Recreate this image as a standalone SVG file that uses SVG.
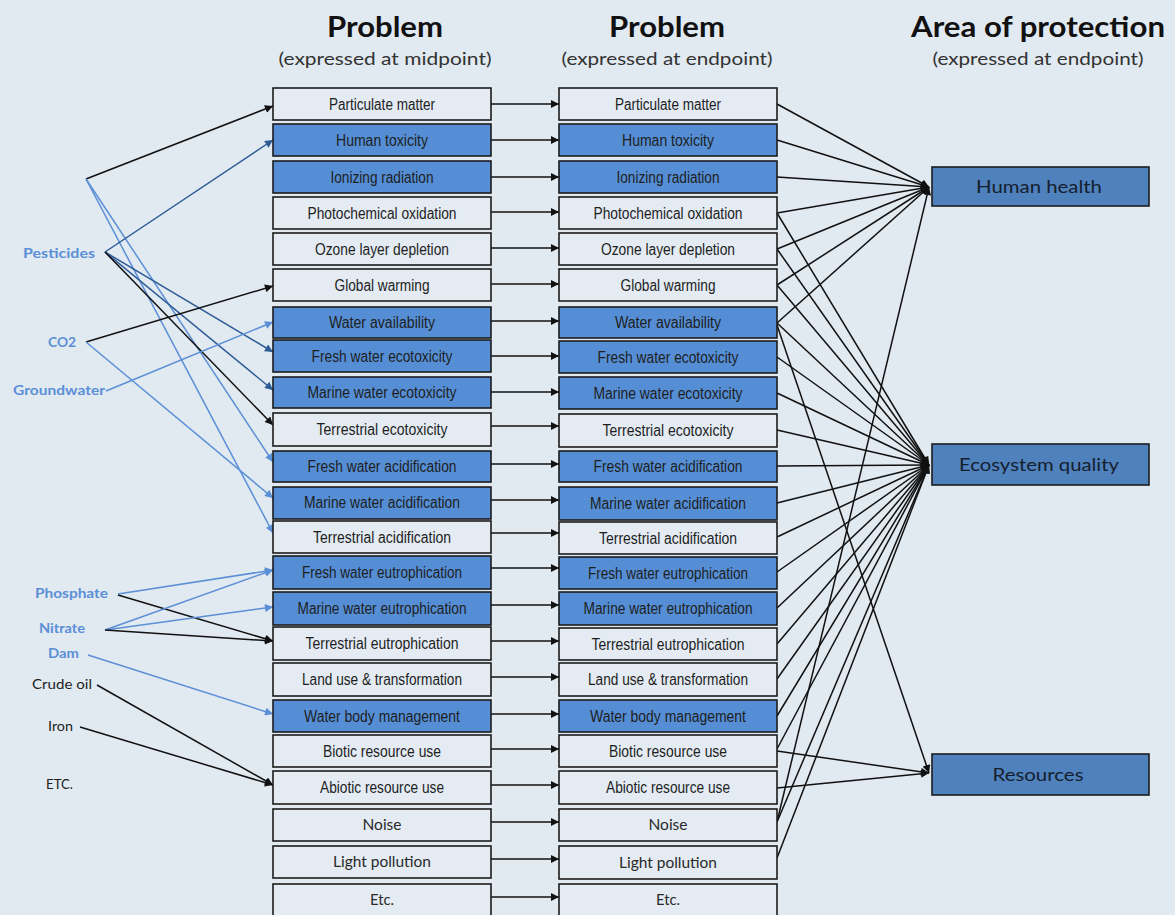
<svg xmlns="http://www.w3.org/2000/svg" width="1175" height="915" viewBox="0 0 1175 915">
  <style>
    .bg { fill: #e1e9f1; }
    .box { stroke: #1c1c1c; stroke-width: 1.6; }
    .w { fill: #e4ebf3; }
    .b { fill: #558ed5; }
    .area { fill: #4f81bd; stroke: #1c1c1c; stroke-width: 1.6; }
    .lbl { font-family: "Liberation Sans", Arial, sans-serif; font-size: 16px; fill: #1e1e1e; text-anchor: middle; }
    .lbl2 { font-family: Lato, "Open Sans", sans-serif; font-size: 15px; fill: #2a2a2a; text-anchor: middle; }
    .head { font-family: Lato, "Open Sans", sans-serif; font-weight: bold; font-size: 28px; fill: #111; text-anchor: middle; }
    .sub { font-family: Lato, "Open Sans", sans-serif; font-size: 16.5px; fill: #333; text-anchor: middle; }
    .aop { font-family: Lato, "Open Sans", sans-serif; font-size: 18px; fill: #15202e; text-anchor: middle; }
    .src { font-family: Lato, "Open Sans", sans-serif; font-weight: bold; font-size: 13.5px; fill: #5b8fd6; }
    .srck { font-family: Lato, "Open Sans", sans-serif; font-size: 13.5px; fill: #222; }
    .k { stroke: #111; stroke-width: 1.5; fill: none; marker-end: url(#ak); }
    .d { stroke: #2d5c96; stroke-width: 1.5; fill: none; marker-end: url(#ad); }
    .l { stroke: #5b8fd6; stroke-width: 1.5; fill: none; marker-end: url(#al); }
  </style>
  <defs>
    <marker id="ak" viewBox="0 0 10 10" refX="10" refY="5" markerWidth="10" markerHeight="8" markerUnits="userSpaceOnUse" orient="auto"><path d="M0,0 L10,5 L0,10 z" fill="#111"/></marker>
    <marker id="ad" viewBox="0 0 10 10" refX="10" refY="5" markerWidth="10" markerHeight="8" markerUnits="userSpaceOnUse" orient="auto"><path d="M0,0 L10,5 L0,10 z" fill="#2d5c96"/></marker>
    <marker id="al" viewBox="0 0 10 10" refX="10" refY="5" markerWidth="10" markerHeight="8" markerUnits="userSpaceOnUse" orient="auto"><path d="M0,0 L10,5 L0,10 z" fill="#5b8fd6"/></marker>
  </defs>

  <rect class="bg" x="0" y="0" width="1175" height="915"/>

  <!-- column headings -->
  <g id="headings">
    <text class="head" x="385" y="37" textLength="116" lengthAdjust="spacingAndGlyphs">Problem</text>
    <text class="sub" x="385" y="65" textLength="213" lengthAdjust="spacingAndGlyphs">(expressed at midpoint)</text>
    <text class="head" x="667" y="37" textLength="116" lengthAdjust="spacingAndGlyphs">Problem</text>
    <text class="sub" x="667" y="65" textLength="211" lengthAdjust="spacingAndGlyphs">(expressed at endpoint)</text>
    <text class="head" x="1038" y="37" textLength="254" lengthAdjust="spacingAndGlyphs">Area of protection</text>
    <text class="sub" x="1038" y="65" textLength="211" lengthAdjust="spacingAndGlyphs">(expressed at endpoint)</text>
  </g>

  <!-- connectors -->
  <g id="connectors">
    <!-- sources to midpoint problems -->
    <line class="k" x1="86" y1="179" x2="273" y2="106"/>
    <line class="l" x1="86" y1="179" x2="273" y2="462"/>
    <line class="l" x1="86" y1="179" x2="273" y2="533"/>
    <line class="d" x1="105" y1="252" x2="273" y2="140"/>
    <line class="d" x1="105" y1="252" x2="273" y2="352"/>
    <line class="d" x1="105" y1="252" x2="273" y2="390"/>
    <line class="k" x1="105" y1="252" x2="273" y2="425"/>
    <line class="k" x1="86" y1="342" x2="273" y2="286"/>
    <line class="l" x1="86" y1="342" x2="273" y2="498"/>
    <line class="l" x1="106" y1="391" x2="273" y2="322"/>
    <line class="l" x1="118" y1="594" x2="273" y2="570"/>
    <line class="k" x1="118" y1="595" x2="273" y2="641"/>
    <line class="l" x1="105" y1="630" x2="273" y2="570"/>
    <line class="l" x1="105" y1="630" x2="273" y2="607"/>
    <line class="k" x1="105" y1="630" x2="273" y2="641"/>
    <line class="l" x1="88" y1="655" x2="273" y2="714"/>
    <line class="k" x1="97" y1="685" x2="273" y2="785"/>
    <line class="k" x1="80" y1="727" x2="273" y2="785"/>

    <!-- midpoint to endpoint -->
    <line class="k" x1="491" y1="104" x2="559" y2="104"/>
    <line class="k" x1="491" y1="140" x2="559" y2="140"/>
    <line class="k" x1="491" y1="177" x2="559" y2="177"/>
    <line class="k" x1="491" y1="212" x2="559" y2="212"/>
    <line class="k" x1="491" y1="248" x2="559" y2="248"/>
    <line class="k" x1="491" y1="284" x2="559" y2="284"/>
    <line class="k" x1="491" y1="321" x2="559" y2="321"/>
    <line class="k" x1="491" y1="356" x2="559" y2="356"/>
    <line class="k" x1="491" y1="392" x2="559" y2="392"/>
    <line class="k" x1="491" y1="426" x2="559" y2="426"/>
    <line class="k" x1="491" y1="464" x2="559" y2="464"/>
    <line class="k" x1="491" y1="500" x2="559" y2="500"/>
    <line class="k" x1="491" y1="533" x2="559" y2="533"/>
    <line class="k" x1="491" y1="568" x2="559" y2="568"/>
    <line class="k" x1="491" y1="605" x2="559" y2="605"/>
    <line class="k" x1="491" y1="641" x2="559" y2="641"/>
    <line class="k" x1="491" y1="677" x2="559" y2="677"/>
    <line class="k" x1="491" y1="714" x2="559" y2="714"/>
    <line class="k" x1="491" y1="749" x2="559" y2="749"/>
    <line class="k" x1="491" y1="785" x2="559" y2="785"/>
    <line class="k" x1="491" y1="822" x2="559" y2="822"/>
    <line class="k" x1="491" y1="859" x2="559" y2="859"/>
    <line class="k" x1="491" y1="897" x2="559" y2="897"/>

    <!-- endpoint problems to Human health -->
    <line class="k" x1="777" y1="104" x2="929" y2="187"/>
    <line class="k" x1="777" y1="140" x2="929" y2="187"/>
    <line class="k" x1="777" y1="177" x2="929" y2="187"/>
    <line class="k" x1="777" y1="213" x2="929" y2="187"/>
    <line class="k" x1="777" y1="249" x2="929" y2="187"/>
    <line class="k" x1="777" y1="285" x2="929" y2="187"/>
    <line class="k" x1="777" y1="323" x2="929" y2="187"/>
    <line class="k" x1="777" y1="822" x2="929" y2="187"/>

    <!-- endpoint problems to Ecosystem quality -->
    <line class="k" x1="777" y1="213" x2="929" y2="465"/>
    <line class="k" x1="777" y1="249" x2="929" y2="465"/>
    <line class="k" x1="777" y1="285" x2="929" y2="465"/>
    <line class="k" x1="777" y1="323" x2="929" y2="465"/>
    <line class="k" x1="777" y1="357" x2="929" y2="465"/>
    <line class="k" x1="777" y1="393" x2="929" y2="465"/>
    <line class="k" x1="777" y1="430" x2="929" y2="465"/>
    <line class="k" x1="777" y1="466" x2="929" y2="465"/>
    <line class="k" x1="777" y1="503" x2="929" y2="465"/>
    <line class="k" x1="777" y1="537" x2="929" y2="465"/>
    <line class="k" x1="777" y1="572" x2="929" y2="465"/>
    <line class="k" x1="777" y1="608" x2="929" y2="465"/>
    <line class="k" x1="777" y1="644" x2="929" y2="465"/>
    <line class="k" x1="777" y1="679" x2="929" y2="465"/>
    <line class="k" x1="777" y1="716" x2="929" y2="465"/>
    <line class="k" x1="777" y1="749" x2="929" y2="465"/>
    <line class="k" x1="777" y1="822" x2="929" y2="465"/>
    <line class="k" x1="777" y1="858" x2="929" y2="465"/>

    <!-- endpoint problems to Resources -->
    <line class="k" x1="777" y1="325" x2="929" y2="773"/>
    <line class="k" x1="777" y1="751" x2="929" y2="773"/>
    <line class="k" x1="777" y1="788" x2="929" y2="773"/>
  </g>

  <!-- sources -->
  <g id="src-pesticides"><text class="src" x="23" y="258" textLength="72" lengthAdjust="spacingAndGlyphs">Pesticides</text></g>
  <g id="src-co2"><text class="src" x="48" y="347" textLength="28" lengthAdjust="spacingAndGlyphs">CO2</text></g>
  <g id="src-groundwater"><text class="src" x="13" y="395" textLength="92" lengthAdjust="spacingAndGlyphs">Groundwater</text></g>
  <g id="src-phosphate"><text class="src" x="35" y="598" textLength="73" lengthAdjust="spacingAndGlyphs">Phosphate</text></g>
  <g id="src-nitrate"><text class="src" x="39" y="633" textLength="46" lengthAdjust="spacingAndGlyphs">Nitrate</text></g>
  <g id="src-dam"><text class="src" x="48" y="658" textLength="31" lengthAdjust="spacingAndGlyphs">Dam</text></g>
  <g id="src-crude-oil"><text class="srck" x="32" y="689" textLength="60" lengthAdjust="spacingAndGlyphs">Crude oil</text></g>
  <g id="src-iron"><text class="srck" x="48" y="731" textLength="25" lengthAdjust="spacingAndGlyphs">Iron</text></g>
  <g id="src-etc"><text class="srck" x="46" y="789" textLength="27" lengthAdjust="spacingAndGlyphs">ETC.</text></g>

  <!-- midpoint problems -->
  <g id="mid-particulate"><rect class="box w" x="273" y="88" width="218" height="32"/><text class="lbl" x="382" y="109.5" textLength="106" lengthAdjust="spacingAndGlyphs">Particulate matter</text></g>
  <g id="mid-human-tox"><rect class="box b" x="273" y="124" width="218" height="32"/><text class="lbl" x="382" y="145.5" textLength="92" lengthAdjust="spacingAndGlyphs">Human toxicity</text></g>
  <g id="mid-ionizing"><rect class="box b" x="273" y="161" width="218" height="32"/><text class="lbl" x="382" y="182.5" textLength="103" lengthAdjust="spacingAndGlyphs">Ionizing radiation</text></g>
  <g id="mid-photochem"><rect class="box w" x="273" y="197" width="218" height="32"/><text class="lbl" x="382" y="218.5" textLength="149" lengthAdjust="spacingAndGlyphs">Photochemical oxidation</text></g>
  <g id="mid-ozone"><rect class="box w" x="273" y="233" width="218" height="32"/><text class="lbl" x="382" y="254.5" textLength="134" lengthAdjust="spacingAndGlyphs">Ozone layer depletion</text></g>
  <g id="mid-global-warming"><rect class="box w" x="273" y="269" width="218" height="32"/><text class="lbl" x="382" y="290.5" textLength="95" lengthAdjust="spacingAndGlyphs">Global warming</text></g>
  <g id="mid-water-avail"><rect class="box b" x="273" y="307" width="218" height="31"/><text class="lbl" x="382" y="327.5" textLength="106" lengthAdjust="spacingAndGlyphs">Water availability</text></g>
  <g id="mid-fw-ecotox"><rect class="box b" x="273" y="340" width="218" height="32"/><text class="lbl" x="382" y="361.5" textLength="141" lengthAdjust="spacingAndGlyphs">Fresh water ecotoxicity</text></g>
  <g id="mid-mw-ecotox"><rect class="box b" x="273" y="377" width="218" height="31"/><text class="lbl" x="382" y="397.5" textLength="149" lengthAdjust="spacingAndGlyphs">Marine water ecotoxicity</text></g>
  <g id="mid-terr-ecotox"><rect class="box w" x="273" y="413" width="218" height="33"/><text class="lbl" x="382" y="435" textLength="131" lengthAdjust="spacingAndGlyphs">Terrestrial ecotoxicity</text></g>
  <g id="mid-fw-acid"><rect class="box b" x="273" y="451" width="218" height="31"/><text class="lbl" x="382" y="471.5" textLength="149" lengthAdjust="spacingAndGlyphs">Fresh water acidification</text></g>
  <g id="mid-mw-acid"><rect class="box b" x="273" y="487" width="218" height="32"/><text class="lbl" x="382" y="508" textLength="156" lengthAdjust="spacingAndGlyphs">Marine water acidification</text></g>
  <g id="mid-terr-acid"><rect class="box w" x="273" y="521" width="218" height="32"/><text class="lbl" x="382" y="542.5" textLength="138" lengthAdjust="spacingAndGlyphs">Terrestrial acidification</text></g>
  <g id="mid-fw-eutro"><rect class="box b" x="273" y="556" width="218" height="33"/><text class="lbl" x="382" y="578" textLength="160" lengthAdjust="spacingAndGlyphs">Fresh water eutrophication</text></g>
  <g id="mid-mw-eutro"><rect class="box b" x="273" y="592" width="218" height="33"/><text class="lbl" x="382" y="614" textLength="169" lengthAdjust="spacingAndGlyphs">Marine water eutrophication</text></g>
  <g id="mid-terr-eutro"><rect class="box w" x="273" y="627" width="218" height="33"/><text class="lbl" x="382" y="649" textLength="153" lengthAdjust="spacingAndGlyphs">Terrestrial eutrophication</text></g>
  <g id="mid-land-use"><rect class="box w" x="273" y="663" width="218" height="33"/><text class="lbl" x="382" y="685" textLength="160" lengthAdjust="spacingAndGlyphs">Land use &amp; transformation</text></g>
  <g id="mid-water-body"><rect class="box b" x="273" y="700" width="218" height="32"/><text class="lbl" x="382" y="721.5" textLength="156" lengthAdjust="spacingAndGlyphs">Water body management</text></g>
  <g id="mid-biotic"><rect class="box w" x="273" y="735" width="218" height="32"/><text class="lbl" x="382" y="756.5" textLength="118" lengthAdjust="spacingAndGlyphs">Biotic resource use</text></g>
  <g id="mid-abiotic"><rect class="box w" x="273" y="771" width="218" height="33"/><text class="lbl" x="382" y="793" textLength="124" lengthAdjust="spacingAndGlyphs">Abiotic resource use</text></g>
  <g id="mid-noise"><rect class="box w" x="273" y="809" width="218" height="32"/><text class="lbl2" x="382" y="830" textLength="39" lengthAdjust="spacingAndGlyphs">Noise</text></g>
  <g id="mid-light"><rect class="box w" x="273" y="846" width="218" height="32"/><text class="lbl2" x="382" y="867" textLength="98" lengthAdjust="spacingAndGlyphs">Light pollution</text></g>
  <g id="mid-etc"><rect class="box w" x="273" y="884" width="218" height="40"/><text class="lbl2" x="382" y="905" textLength="24" lengthAdjust="spacingAndGlyphs">Etc.</text></g>

  <!-- endpoint problems -->
  <g id="end-particulate"><rect class="box w" x="559" y="88" width="218" height="32"/><text class="lbl" x="668" y="109.5" textLength="106" lengthAdjust="spacingAndGlyphs">Particulate matter</text></g>
  <g id="end-human-tox"><rect class="box b" x="559" y="124" width="218" height="32"/><text class="lbl" x="668" y="145.5" textLength="92" lengthAdjust="spacingAndGlyphs">Human toxicity</text></g>
  <g id="end-ionizing"><rect class="box b" x="559" y="161" width="218" height="32"/><text class="lbl" x="668" y="182.5" textLength="103" lengthAdjust="spacingAndGlyphs">Ionizing radiation</text></g>
  <g id="end-photochem"><rect class="box w" x="559" y="197" width="218" height="32"/><text class="lbl" x="668" y="218.5" textLength="149" lengthAdjust="spacingAndGlyphs">Photochemical oxidation</text></g>
  <g id="end-ozone"><rect class="box w" x="559" y="233" width="218" height="32"/><text class="lbl" x="668" y="254.5" textLength="134" lengthAdjust="spacingAndGlyphs">Ozone layer depletion</text></g>
  <g id="end-global-warming"><rect class="box w" x="559" y="269" width="218" height="32"/><text class="lbl" x="668" y="290.5" textLength="95" lengthAdjust="spacingAndGlyphs">Global warming</text></g>
  <g id="end-water-avail"><rect class="box b" x="559" y="307" width="218" height="31"/><text class="lbl" x="668" y="327.5" textLength="106" lengthAdjust="spacingAndGlyphs">Water availability</text></g>
  <g id="end-fw-ecotox"><rect class="box b" x="559" y="341" width="218" height="32"/><text class="lbl" x="668" y="362.5" textLength="141" lengthAdjust="spacingAndGlyphs">Fresh water ecotoxicity</text></g>
  <g id="end-mw-ecotox"><rect class="box b" x="559" y="377" width="218" height="32"/><text class="lbl" x="668" y="398.5" textLength="149" lengthAdjust="spacingAndGlyphs">Marine water ecotoxicity</text></g>
  <g id="end-terr-ecotox"><rect class="box w" x="559" y="414" width="218" height="33"/><text class="lbl" x="668" y="436" textLength="131" lengthAdjust="spacingAndGlyphs">Terrestrial ecotoxicity</text></g>
  <g id="end-fw-acid"><rect class="box b" x="559" y="451" width="218" height="31"/><text class="lbl" x="668" y="471.5" textLength="149" lengthAdjust="spacingAndGlyphs">Fresh water acidification</text></g>
  <g id="end-mw-acid"><rect class="box b" x="559" y="487" width="218" height="33"/><text class="lbl" x="668" y="509" textLength="156" lengthAdjust="spacingAndGlyphs">Marine water acidification</text></g>
  <g id="end-terr-acid"><rect class="box w" x="559" y="522" width="218" height="32"/><text class="lbl" x="668" y="543.5" textLength="138" lengthAdjust="spacingAndGlyphs">Terrestrial acidification</text></g>
  <g id="end-fw-eutro"><rect class="box b" x="559" y="557" width="218" height="32"/><text class="lbl" x="668" y="578.5" textLength="160" lengthAdjust="spacingAndGlyphs">Fresh water eutrophication</text></g>
  <g id="end-mw-eutro"><rect class="box b" x="559" y="592" width="218" height="33"/><text class="lbl" x="668" y="614" textLength="169" lengthAdjust="spacingAndGlyphs">Marine water eutrophication</text></g>
  <g id="end-terr-eutro"><rect class="box w" x="559" y="628" width="218" height="32"/><text class="lbl" x="668" y="649.5" textLength="153" lengthAdjust="spacingAndGlyphs">Terrestrial eutrophication</text></g>
  <g id="end-land-use"><rect class="box w" x="559" y="663" width="218" height="33"/><text class="lbl" x="668" y="685" textLength="160" lengthAdjust="spacingAndGlyphs">Land use &amp; transformation</text></g>
  <g id="end-water-body"><rect class="box b" x="559" y="700" width="218" height="32"/><text class="lbl" x="668" y="721.5" textLength="156" lengthAdjust="spacingAndGlyphs">Water body management</text></g>
  <g id="end-biotic"><rect class="box w" x="559" y="735" width="218" height="32"/><text class="lbl" x="668" y="756.5" textLength="118" lengthAdjust="spacingAndGlyphs">Biotic resource use</text></g>
  <g id="end-abiotic"><rect class="box w" x="559" y="771" width="218" height="33"/><text class="lbl" x="668" y="793" textLength="124" lengthAdjust="spacingAndGlyphs">Abiotic resource use</text></g>
  <g id="end-noise"><rect class="box w" x="559" y="809" width="218" height="32"/><text class="lbl2" x="668" y="830" textLength="39" lengthAdjust="spacingAndGlyphs">Noise</text></g>
  <g id="end-light"><rect class="box w" x="559" y="846" width="218" height="33"/><text class="lbl2" x="668" y="868" textLength="98" lengthAdjust="spacingAndGlyphs">Light pollution</text></g>
  <g id="end-etc"><rect class="box w" x="559" y="884" width="218" height="40"/><text class="lbl2" x="668" y="905" textLength="24" lengthAdjust="spacingAndGlyphs">Etc.</text></g>

  <!-- areas of protection -->
  <g id="aop-human-health"><rect class="area" x="932" y="167" width="217" height="39"/><text class="aop" x="1039" y="193" textLength="126" lengthAdjust="spacingAndGlyphs">Human health</text></g>
  <g id="aop-ecosystem"><rect class="area" x="932" y="444" width="217" height="41"/><text class="aop" x="1039" y="471" textLength="160" lengthAdjust="spacingAndGlyphs">Ecosystem quality</text></g>
  <g id="aop-resources"><rect class="area" x="932" y="754" width="217" height="41"/><text class="aop" x="1038" y="781" textLength="91" lengthAdjust="spacingAndGlyphs">Resources</text></g>
</svg>
